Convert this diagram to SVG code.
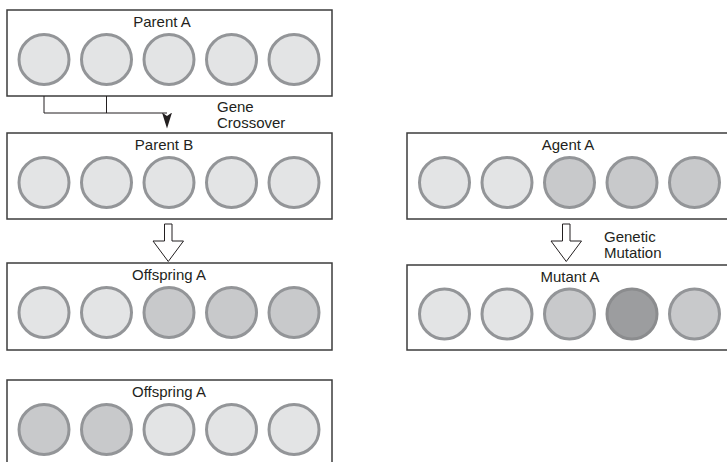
<svg xmlns="http://www.w3.org/2000/svg" width="727" height="462" viewBox="0 0 727 462">
  <style>
    .box { fill: #ffffff; stroke: #3c3c3c; stroke-width: 1.5; }
    .gene { stroke: #939598; stroke-width: 3; }
    .g1 { fill: #e3e4e5; }
    .g2 { fill: #c8c9cb; }
    .g3 { fill: #9c9d9f; stroke: #8b8c8e; }
    .title { font-family: "Liberation Sans", Arial, sans-serif; font-size: 15px; fill: #231f20; text-anchor: middle; }
    .note { font-family: "Liberation Sans", Arial, sans-serif; font-size: 15px; fill: #231f20; }
    .wire { fill: none; stroke: #231f20; stroke-width: 1; }
    .hollow { fill: #ffffff; stroke: #231f20; stroke-width: 1; stroke-linejoin: miter; }
  </style>
  <defs>
    <!-- stealth head drawn along +x, tip at the path end -->
    <marker id="stealth" viewBox="0 0 16 10" refX="16" refY="5" markerWidth="16" markerHeight="10" markerUnits="userSpaceOnUse" orient="auto">
      <path d="M0,0 L3.5,5 L0,10 L16,5 Z" fill="#231f20"/>
    </marker>
  </defs>

  <rect width="727" height="462" fill="#ffffff"/>

  <!-- Parent A -->
  <g id="parent-a">
    <rect class="box" x="7" y="10" width="325" height="86"/>
    <text class="title" x="162" y="26.5">Parent A</text>
    <circle class="gene g1" cx="44" cy="59.5" r="25"/>
    <circle class="gene g1" cx="106.5" cy="59.5" r="25"/>
    <circle class="gene g1" cx="169" cy="59.5" r="25"/>
    <circle class="gene g1" cx="231.5" cy="59.5" r="25"/>
    <circle class="gene g1" cx="294" cy="59.5" r="25"/>
  </g>

  <!-- Parent B -->
  <g id="parent-b">
    <rect class="box" x="7" y="133" width="325" height="86"/>
    <text class="title" x="164" y="149.5">Parent B</text>
    <circle class="gene g1" cx="44" cy="182.5" r="25"/>
    <circle class="gene g1" cx="106.5" cy="182.5" r="25"/>
    <circle class="gene g1" cx="169" cy="182.5" r="25"/>
    <circle class="gene g1" cx="231.5" cy="182.5" r="25"/>
    <circle class="gene g1" cx="294" cy="182.5" r="25"/>
  </g>

  <!-- Offspring A (first) -->
  <g id="offspring-a1">
    <rect class="box" x="7" y="263" width="325" height="87"/>
    <text class="title" x="169" y="279.5">Offspring A</text>
    <circle class="gene g1" cx="44" cy="312.5" r="25"/>
    <circle class="gene g1" cx="106.5" cy="312.5" r="25"/>
    <circle class="gene g2" cx="169" cy="312.5" r="25"/>
    <circle class="gene g2" cx="231.5" cy="312.5" r="25"/>
    <circle class="gene g2" cx="294" cy="312.5" r="25"/>
  </g>

  <!-- Offspring A (second) -->
  <g id="offspring-a2">
    <rect class="box" x="7" y="380" width="325" height="87"/>
    <text class="title" x="169" y="396.5">Offspring A</text>
    <circle class="gene g2" cx="44" cy="429.5" r="25"/>
    <circle class="gene g2" cx="106.5" cy="429.5" r="25"/>
    <circle class="gene g1" cx="169" cy="429.5" r="25"/>
    <circle class="gene g1" cx="231.5" cy="429.5" r="25"/>
    <circle class="gene g1" cx="294" cy="429.5" r="25"/>
  </g>

  <!-- Agent A -->
  <g id="agent-a">
    <rect class="box" x="407" y="133" width="325" height="86"/>
    <text class="title" x="568" y="149.5">Agent A</text>
    <circle class="gene g1" cx="444.5" cy="182.5" r="25"/>
    <circle class="gene g1" cx="507" cy="182.5" r="25"/>
    <circle class="gene g2" cx="569.5" cy="182.5" r="25"/>
    <circle class="gene g2" cx="632" cy="182.5" r="25"/>
    <circle class="gene g2" cx="694.5" cy="182.5" r="25"/>
  </g>

  <!-- Mutant A -->
  <g id="mutant-a">
    <rect class="box" x="407" y="265" width="325" height="85"/>
    <text class="title" x="570" y="281.5">Mutant A</text>
    <circle class="gene g1" cx="444.5" cy="314" r="25"/>
    <circle class="gene g1" cx="507" cy="314" r="25"/>
    <circle class="gene g2" cx="569.5" cy="314" r="25"/>
    <circle class="gene g3" cx="632" cy="314" r="25"/>
    <circle class="gene g2" cx="694.5" cy="314" r="25"/>
  </g>

  <!-- Connectors -->
  <g id="connectors">
    <!-- gene crossover bracket -->
    <path class="wire" d="M44,96 V113 H167"/>
    <line class="wire" x1="106.5" y1="96" x2="106.5" y2="113"/>
    <line x1="167" y1="112.5" x2="167" y2="128.5" stroke="none" marker-end="url(#stealth)"/>
    <text class="note" x="217" y="112">Gene</text>
    <text class="note" x="217" y="128">Crossover</text>

    <!-- hollow arrow Parent B to Offspring A -->
    <path class="hollow" d="M164.5,224 H172 V241 H183.5 L168.25,261.5 L153,241 H164.5 Z"/>

    <!-- hollow arrow Agent A to Mutant A -->
    <path class="hollow" d="M562.5,224 H570 V241 H581.5 L566.25,261.5 L551,241 H562.5 Z"/>
    <text class="note" x="604" y="242">Genetic</text>
    <text class="note" x="604" y="258">Mutation</text>
  </g>
</svg>
